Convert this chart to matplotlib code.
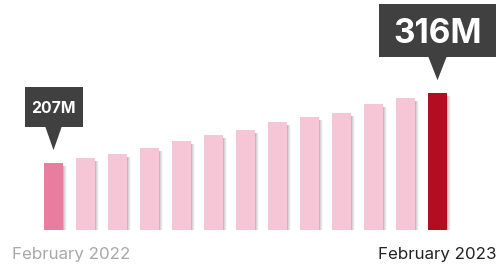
import matplotlib
matplotlib.use("Agg")
import matplotlib.pyplot as plt
from matplotlib.patches import Rectangle, Polygon
from matplotlib.transforms import IdentityTransform

values = [207, 215, 222, 231, 242, 251, 259, 271, 279, 285, 299, 308, 316]
start_label = "February 2022"
end_label = "February 2023"
first_callout = "207M"
last_callout = "316M"

c_first = "#E97DA0"
c_mid = "#F6C6D6"
c_last = "#B10F21"
c_box = "#404040"

plt.rcParams['font.family'] = ['Inter', 'DejaVu Sans']

fig = plt.figure(figsize=(5.02, 2.66), dpi=100)
ax = fig.add_axes([0, 0, 1, 1])
ax.set_axis_off()
ax.set_xlim(-1.672, 14.016)
ax.set_ylim(46.9, 461.1)

n = len(values)
xs = list(range(n))
colors = [c_first] + [c_mid] * (n - 2) + [c_last]
w = 0.59

# shadows
px = 1 / 32.0
for x, v in zip(xs, values):
    for k, a in enumerate([0.38, 0.25, 0.13, 0.05]):
        ax.add_patch(Rectangle((x + w / 2 + k * px, 103), px, v - 103 - 3 * 1.557,
                               facecolor="#555555", alpha=a, edgecolor='none', zorder=1))
ax.bar(xs, [v - 103 for v in values], bottom=103, width=w, color=colors, zorder=2)


def callout(i, v, text, fs, bw, bh, th, tw, gap=13):
    tx, ty = ax.transData.transform((i, v))
    ty += gap
    tri = Polygon([(tx, ty), (tx - tw / 2, ty + th + 1), (tx + tw / 2, ty + th + 1)],
                  closed=True, transform=IdentityTransform(), facecolor=c_box,
                  edgecolor='none', zorder=3)
    fig.patches.append(tri)
    box = Rectangle((tx - bw / 2, ty + th), bw, bh, transform=IdentityTransform(),
                    facecolor=c_box, edgecolor='none', zorder=3)
    fig.patches.append(box)
    fig.text((tx) / 502, (ty + th + bh / 2) / 266, text, color='white', fontsize=fs,
             fontweight='bold', ha='center', va='center_baseline', zorder=4)


callout(0, values[0], first_callout, 11.3, 58, 40, 23.3, 17)
callout(n - 1, values[-1], last_callout, 24, 117, 52.7, 23.3, 19)

fig.text(12 / 502, 1 - 255 / 266, start_label, color="#A8A8A8", fontsize=12.2,
         ha='left', va='center')
fig.text(497 / 502, 1 - 255 / 266, end_label, color="#222222", fontsize=12.2,
         ha='right', va='center')

fig.savefig("out.png", dpi=100)
